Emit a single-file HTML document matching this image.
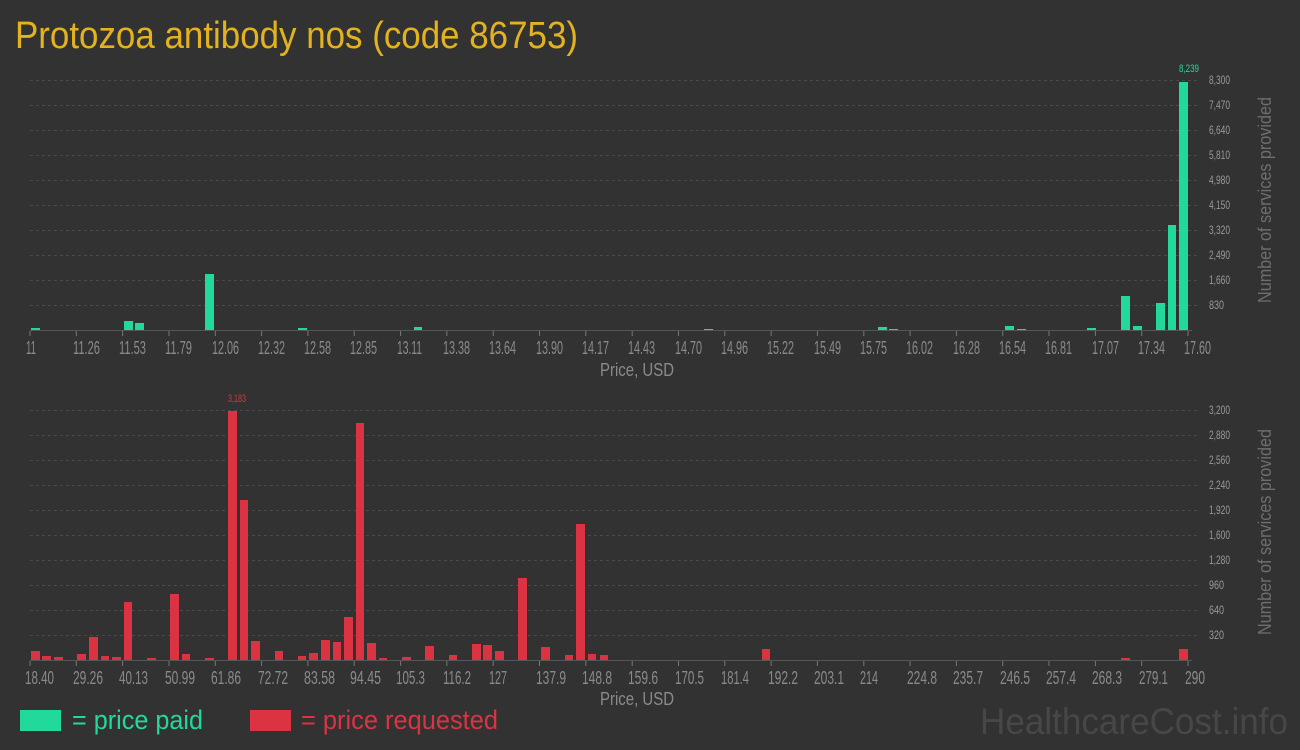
<!DOCTYPE html>
<html><head><meta charset="utf-8"><style>
html,body{margin:0;padding:0;background:#323232;}
svg{display:block;font-family:"Liberation Sans",sans-serif;}
</style></head><body>
<svg width="1300" height="750" viewBox="0 0 1300 750">
<rect width="1300" height="750" fill="#323232"/>
<text x="15" y="48" font-size="38" fill="#e3b21f" textLength="563" lengthAdjust="spacingAndGlyphs">Protozoa antibody nos (code 86753)</text>

<g stroke="#4a4a4a" stroke-width="1" stroke-dasharray="3,3">
<line x1="30" x2="1200" y1="80.5" y2="80.5"/><line x1="30" x2="1200" y1="105.5" y2="105.5"/><line x1="30" x2="1200" y1="130.5" y2="130.5"/><line x1="30" x2="1200" y1="155.5" y2="155.5"/><line x1="30" x2="1200" y1="180.5" y2="180.5"/><line x1="30" x2="1200" y1="205.5" y2="205.5"/><line x1="30" x2="1200" y1="230.5" y2="230.5"/><line x1="30" x2="1200" y1="255.5" y2="255.5"/><line x1="30" x2="1200" y1="280.5" y2="280.5"/><line x1="30" x2="1200" y1="305.5" y2="305.5"/>
</g>
<g fill="#999" font-size="12">
<text x="1209" y="84" textLength="21" lengthAdjust="spacingAndGlyphs">8,300</text>
<text x="1209" y="109" textLength="21" lengthAdjust="spacingAndGlyphs">7,470</text>
<text x="1209" y="134" textLength="21" lengthAdjust="spacingAndGlyphs">6,640</text>
<text x="1209" y="159" textLength="21" lengthAdjust="spacingAndGlyphs">5,810</text>
<text x="1209" y="184" textLength="21" lengthAdjust="spacingAndGlyphs">4,980</text>
<text x="1209" y="209" textLength="21" lengthAdjust="spacingAndGlyphs">4,150</text>
<text x="1209" y="234" textLength="21" lengthAdjust="spacingAndGlyphs">3,320</text>
<text x="1209" y="259" textLength="21" lengthAdjust="spacingAndGlyphs">2,490</text>
<text x="1209" y="284" textLength="21" lengthAdjust="spacingAndGlyphs">1,660</text>
<text x="1209" y="309" textLength="15" lengthAdjust="spacingAndGlyphs">830</text>
</g>
<text transform="translate(1271,200) rotate(-90)" text-anchor="middle" font-size="18" fill="#6e6e6e" textLength="206" lengthAdjust="spacingAndGlyphs">Number of services provided</text>
<g fill="#21d99b">
<rect x="31" y="328" width="9" height="2"/>
<rect x="124" y="321" width="9" height="9"/>
<rect x="135" y="323" width="9" height="7"/>
<rect x="205" y="274" width="9" height="56"/>
<rect x="298" y="328" width="9" height="2"/>
<rect x="414" y="327" width="8" height="3"/>
<rect x="704" y="329" width="9" height="1"/>
<rect x="878" y="327" width="9" height="3"/>
<rect x="889" y="329" width="9" height="1"/>
<rect x="1005" y="326" width="9" height="4"/>
<rect x="1017" y="329" width="9" height="1"/>
<rect x="1087" y="328" width="9" height="2"/>
<rect x="1121" y="296" width="9" height="34"/>
<rect x="1133" y="326" width="9" height="4"/>
<rect x="1156" y="303" width="9" height="27"/>
<rect x="1168" y="225" width="8" height="105"/>
<rect x="1179" y="82" width="9" height="248"/>
</g>
<text x="1189" y="72" text-anchor="middle" font-size="11" fill="#21d99b" textLength="20" lengthAdjust="spacingAndGlyphs">8,239</text>
<line x1="30" x2="1192" y1="330.5" y2="330.5" stroke="#555"/>
<g stroke="#777">
<line x1="30" x2="30" y1="331" y2="336"/><line x1="76.3" x2="76.3" y1="331" y2="336"/><line x1="122.6" x2="122.6" y1="331" y2="336"/><line x1="169" x2="169" y1="331" y2="336"/><line x1="215.3" x2="215.3" y1="331" y2="336"/><line x1="261.6" x2="261.6" y1="331" y2="336"/><line x1="307.9" x2="307.9" y1="331" y2="336"/><line x1="354.2" x2="354.2" y1="331" y2="336"/><line x1="400.6" x2="400.6" y1="331" y2="336"/><line x1="446.9" x2="446.9" y1="331" y2="336"/><line x1="493.2" x2="493.2" y1="331" y2="336"/><line x1="539.5" x2="539.5" y1="331" y2="336"/><line x1="585.8" x2="585.8" y1="331" y2="336"/><line x1="632.2" x2="632.2" y1="331" y2="336"/><line x1="678.5" x2="678.5" y1="331" y2="336"/><line x1="724.8" x2="724.8" y1="331" y2="336"/><line x1="771.1" x2="771.1" y1="331" y2="336"/><line x1="817.4" x2="817.4" y1="331" y2="336"/><line x1="863.8" x2="863.8" y1="331" y2="336"/><line x1="910.1" x2="910.1" y1="331" y2="336"/><line x1="956.4" x2="956.4" y1="331" y2="336"/><line x1="1002.7" x2="1002.7" y1="331" y2="336"/><line x1="1049" x2="1049" y1="331" y2="336"/><line x1="1095.4" x2="1095.4" y1="331" y2="336"/><line x1="1141.7" x2="1141.7" y1="331" y2="336"/><line x1="1188" x2="1188" y1="331" y2="336"/>
</g>
<g fill="#8a8a8a" font-size="18">
<text x="26" y="354" textLength="10" lengthAdjust="spacingAndGlyphs">11</text>
<text x="73" y="354" textLength="27" lengthAdjust="spacingAndGlyphs">11.26</text>
<text x="119" y="354" textLength="27" lengthAdjust="spacingAndGlyphs">11.53</text>
<text x="165" y="354" textLength="27" lengthAdjust="spacingAndGlyphs">11.79</text>
<text x="212" y="354" textLength="27" lengthAdjust="spacingAndGlyphs">12.06</text>
<text x="258" y="354" textLength="27" lengthAdjust="spacingAndGlyphs">12.32</text>
<text x="304" y="354" textLength="27" lengthAdjust="spacingAndGlyphs">12.58</text>
<text x="350" y="354" textLength="27" lengthAdjust="spacingAndGlyphs">12.85</text>
<text x="397" y="354" textLength="25" lengthAdjust="spacingAndGlyphs">13.11</text>
<text x="443" y="354" textLength="27" lengthAdjust="spacingAndGlyphs">13.38</text>
<text x="489" y="354" textLength="27" lengthAdjust="spacingAndGlyphs">13.64</text>
<text x="536" y="354" textLength="27" lengthAdjust="spacingAndGlyphs">13.90</text>
<text x="582" y="354" textLength="27" lengthAdjust="spacingAndGlyphs">14.17</text>
<text x="628" y="354" textLength="27" lengthAdjust="spacingAndGlyphs">14.43</text>
<text x="675" y="354" textLength="27" lengthAdjust="spacingAndGlyphs">14.70</text>
<text x="721" y="354" textLength="27" lengthAdjust="spacingAndGlyphs">14.96</text>
<text x="767" y="354" textLength="27" lengthAdjust="spacingAndGlyphs">15.22</text>
<text x="814" y="354" textLength="27" lengthAdjust="spacingAndGlyphs">15.49</text>
<text x="860" y="354" textLength="27" lengthAdjust="spacingAndGlyphs">15.75</text>
<text x="906" y="354" textLength="27" lengthAdjust="spacingAndGlyphs">16.02</text>
<text x="953" y="354" textLength="27" lengthAdjust="spacingAndGlyphs">16.28</text>
<text x="999" y="354" textLength="27" lengthAdjust="spacingAndGlyphs">16.54</text>
<text x="1045" y="354" textLength="27" lengthAdjust="spacingAndGlyphs">16.81</text>
<text x="1092" y="354" textLength="27" lengthAdjust="spacingAndGlyphs">17.07</text>
<text x="1138" y="354" textLength="27" lengthAdjust="spacingAndGlyphs">17.34</text>
<text x="1184" y="354" textLength="27" lengthAdjust="spacingAndGlyphs">17.60</text>
</g>
<text x="637" y="376" text-anchor="middle" font-size="18" fill="#8a8a8a" textLength="74" lengthAdjust="spacingAndGlyphs">Price, USD</text>

<g stroke="#4a4a4a" stroke-width="1" stroke-dasharray="3,3">
<line x1="30" x2="1200" y1="410.5" y2="410.5"/><line x1="30" x2="1200" y1="435.5" y2="435.5"/><line x1="30" x2="1200" y1="460.5" y2="460.5"/><line x1="30" x2="1200" y1="485.5" y2="485.5"/><line x1="30" x2="1200" y1="510.5" y2="510.5"/><line x1="30" x2="1200" y1="535.5" y2="535.5"/><line x1="30" x2="1200" y1="560.5" y2="560.5"/><line x1="30" x2="1200" y1="585.5" y2="585.5"/><line x1="30" x2="1200" y1="610.5" y2="610.5"/><line x1="30" x2="1200" y1="635.5" y2="635.5"/>
</g>
<g fill="#999" font-size="12">
<text x="1209" y="414" textLength="21" lengthAdjust="spacingAndGlyphs">3,200</text>
<text x="1209" y="439" textLength="21" lengthAdjust="spacingAndGlyphs">2,880</text>
<text x="1209" y="464" textLength="21" lengthAdjust="spacingAndGlyphs">2,560</text>
<text x="1209" y="489" textLength="21" lengthAdjust="spacingAndGlyphs">2,240</text>
<text x="1209" y="514" textLength="21" lengthAdjust="spacingAndGlyphs">1,920</text>
<text x="1209" y="539" textLength="21" lengthAdjust="spacingAndGlyphs">1,600</text>
<text x="1209" y="564" textLength="21" lengthAdjust="spacingAndGlyphs">1,280</text>
<text x="1209" y="589" textLength="15" lengthAdjust="spacingAndGlyphs">960</text>
<text x="1209" y="614" textLength="15" lengthAdjust="spacingAndGlyphs">640</text>
<text x="1209" y="639" textLength="15" lengthAdjust="spacingAndGlyphs">320</text>
</g>
<text transform="translate(1271,532) rotate(-90)" text-anchor="middle" font-size="18" fill="#6e6e6e" textLength="206" lengthAdjust="spacingAndGlyphs">Number of services provided</text>
<g fill="#dc3343">
<rect x="31" y="651" width="9" height="9"/>
<rect x="42" y="656" width="9" height="4"/>
<rect x="54" y="657" width="9" height="3"/>
<rect x="77" y="654" width="9" height="6"/>
<rect x="89" y="637" width="9" height="23"/>
<rect x="101" y="656" width="8" height="4"/>
<rect x="112" y="657" width="9" height="3"/>
<rect x="124" y="602" width="8" height="58"/>
<rect x="147" y="658" width="9" height="2"/>
<rect x="170" y="594" width="9" height="66"/>
<rect x="182" y="654" width="8" height="6"/>
<rect x="205" y="658" width="9" height="2"/>
<rect x="228" y="411" width="9" height="249"/>
<rect x="240" y="500" width="8" height="160"/>
<rect x="251" y="641" width="9" height="19"/>
<rect x="275" y="651" width="8" height="9"/>
<rect x="298" y="656" width="8" height="4"/>
<rect x="309" y="653" width="9" height="7"/>
<rect x="321" y="640" width="9" height="20"/>
<rect x="333" y="642" width="8" height="18"/>
<rect x="344" y="617" width="9" height="43"/>
<rect x="356" y="423" width="8" height="237"/>
<rect x="367" y="643" width="9" height="17"/>
<rect x="379" y="658" width="8" height="2"/>
<rect x="402" y="657" width="9" height="3"/>
<rect x="425" y="646" width="9" height="14"/>
<rect x="449" y="655" width="8" height="5"/>
<rect x="472" y="644" width="9" height="16"/>
<rect x="483" y="645" width="9" height="15"/>
<rect x="495" y="651" width="9" height="9"/>
<rect x="518" y="578" width="9" height="82"/>
<rect x="541" y="647" width="9" height="13"/>
<rect x="565" y="655" width="8" height="5"/>
<rect x="576" y="524" width="9" height="136"/>
<rect x="588" y="654" width="8" height="6"/>
<rect x="600" y="655" width="8" height="5"/>
<rect x="762" y="649" width="8" height="11"/>
<rect x="1121" y="658" width="9" height="2"/>
<rect x="1179" y="649" width="9" height="11"/>
</g>
<text x="237" y="402" text-anchor="middle" font-size="11" fill="#dc3343" textLength="18" lengthAdjust="spacingAndGlyphs">3,183</text>
<line x1="30" x2="1192" y1="660.5" y2="660.5" stroke="#555"/>
<g stroke="#777">
<line x1="30" x2="30" y1="661" y2="666"/><line x1="76.3" x2="76.3" y1="661" y2="666"/><line x1="122.6" x2="122.6" y1="661" y2="666"/><line x1="169" x2="169" y1="661" y2="666"/><line x1="215.3" x2="215.3" y1="661" y2="666"/><line x1="261.6" x2="261.6" y1="661" y2="666"/><line x1="307.9" x2="307.9" y1="661" y2="666"/><line x1="354.2" x2="354.2" y1="661" y2="666"/><line x1="400.6" x2="400.6" y1="661" y2="666"/><line x1="446.9" x2="446.9" y1="661" y2="666"/><line x1="493.2" x2="493.2" y1="661" y2="666"/><line x1="539.5" x2="539.5" y1="661" y2="666"/><line x1="585.8" x2="585.8" y1="661" y2="666"/><line x1="632.2" x2="632.2" y1="661" y2="666"/><line x1="678.5" x2="678.5" y1="661" y2="666"/><line x1="724.8" x2="724.8" y1="661" y2="666"/><line x1="771.1" x2="771.1" y1="661" y2="666"/><line x1="817.4" x2="817.4" y1="661" y2="666"/><line x1="863.8" x2="863.8" y1="661" y2="666"/><line x1="910.1" x2="910.1" y1="661" y2="666"/><line x1="956.4" x2="956.4" y1="661" y2="666"/><line x1="1002.7" x2="1002.7" y1="661" y2="666"/><line x1="1049" x2="1049" y1="661" y2="666"/><line x1="1095.4" x2="1095.4" y1="661" y2="666"/><line x1="1141.7" x2="1141.7" y1="661" y2="666"/><line x1="1188" x2="1188" y1="661" y2="666"/>
</g>
<g fill="#8a8a8a" font-size="18">
<text x="25" y="684" textLength="29" lengthAdjust="spacingAndGlyphs">18.40</text>
<text x="73" y="684" textLength="30" lengthAdjust="spacingAndGlyphs">29.26</text>
<text x="119" y="684" textLength="29" lengthAdjust="spacingAndGlyphs">40.13</text>
<text x="165" y="684" textLength="30" lengthAdjust="spacingAndGlyphs">50.99</text>
<text x="211" y="684" textLength="30" lengthAdjust="spacingAndGlyphs">61.86</text>
<text x="258" y="684" textLength="30" lengthAdjust="spacingAndGlyphs">72.72</text>
<text x="304" y="684" textLength="31" lengthAdjust="spacingAndGlyphs">83.58</text>
<text x="350" y="684" textLength="31" lengthAdjust="spacingAndGlyphs">94.45</text>
<text x="396" y="684" textLength="29" lengthAdjust="spacingAndGlyphs">105.3</text>
<text x="443" y="684" textLength="28" lengthAdjust="spacingAndGlyphs">116.2</text>
<text x="489" y="684" textLength="18" lengthAdjust="spacingAndGlyphs">127</text>
<text x="536" y="684" textLength="30" lengthAdjust="spacingAndGlyphs">137.9</text>
<text x="582" y="684" textLength="30" lengthAdjust="spacingAndGlyphs">148.8</text>
<text x="628" y="684" textLength="30" lengthAdjust="spacingAndGlyphs">159.6</text>
<text x="675" y="684" textLength="29" lengthAdjust="spacingAndGlyphs">170.5</text>
<text x="721" y="684" textLength="28" lengthAdjust="spacingAndGlyphs">181.4</text>
<text x="768" y="684" textLength="30" lengthAdjust="spacingAndGlyphs">192.2</text>
<text x="814" y="684" textLength="30" lengthAdjust="spacingAndGlyphs">203.1</text>
<text x="860" y="684" textLength="18" lengthAdjust="spacingAndGlyphs">214</text>
<text x="907" y="684" textLength="30" lengthAdjust="spacingAndGlyphs">224.8</text>
<text x="953" y="684" textLength="30" lengthAdjust="spacingAndGlyphs">235.7</text>
<text x="1000" y="684" textLength="30" lengthAdjust="spacingAndGlyphs">246.5</text>
<text x="1046" y="684" textLength="30" lengthAdjust="spacingAndGlyphs">257.4</text>
<text x="1092" y="684" textLength="30" lengthAdjust="spacingAndGlyphs">268.3</text>
<text x="1139" y="684" textLength="29" lengthAdjust="spacingAndGlyphs">279.1</text>
<text x="1185" y="684" textLength="20" lengthAdjust="spacingAndGlyphs">290</text>
</g>
<text x="637" y="705" text-anchor="middle" font-size="18" fill="#8a8a8a" textLength="74" lengthAdjust="spacingAndGlyphs">Price, USD</text>

<rect x="20" y="710" width="41" height="21" fill="#21d99b"/>
<text x="72" y="729" font-size="27" fill="#21d99b" textLength="131" lengthAdjust="spacingAndGlyphs">= price paid</text>
<rect x="250" y="710" width="41" height="21" fill="#dc3343"/>
<text x="301" y="729" font-size="27" fill="#dc3343" textLength="197" lengthAdjust="spacingAndGlyphs">= price requested</text>
<text x="980" y="734" font-size="37" fill="#474747" textLength="308" lengthAdjust="spacingAndGlyphs">HealthcareCost.info</text>
</svg>
</body></html>
